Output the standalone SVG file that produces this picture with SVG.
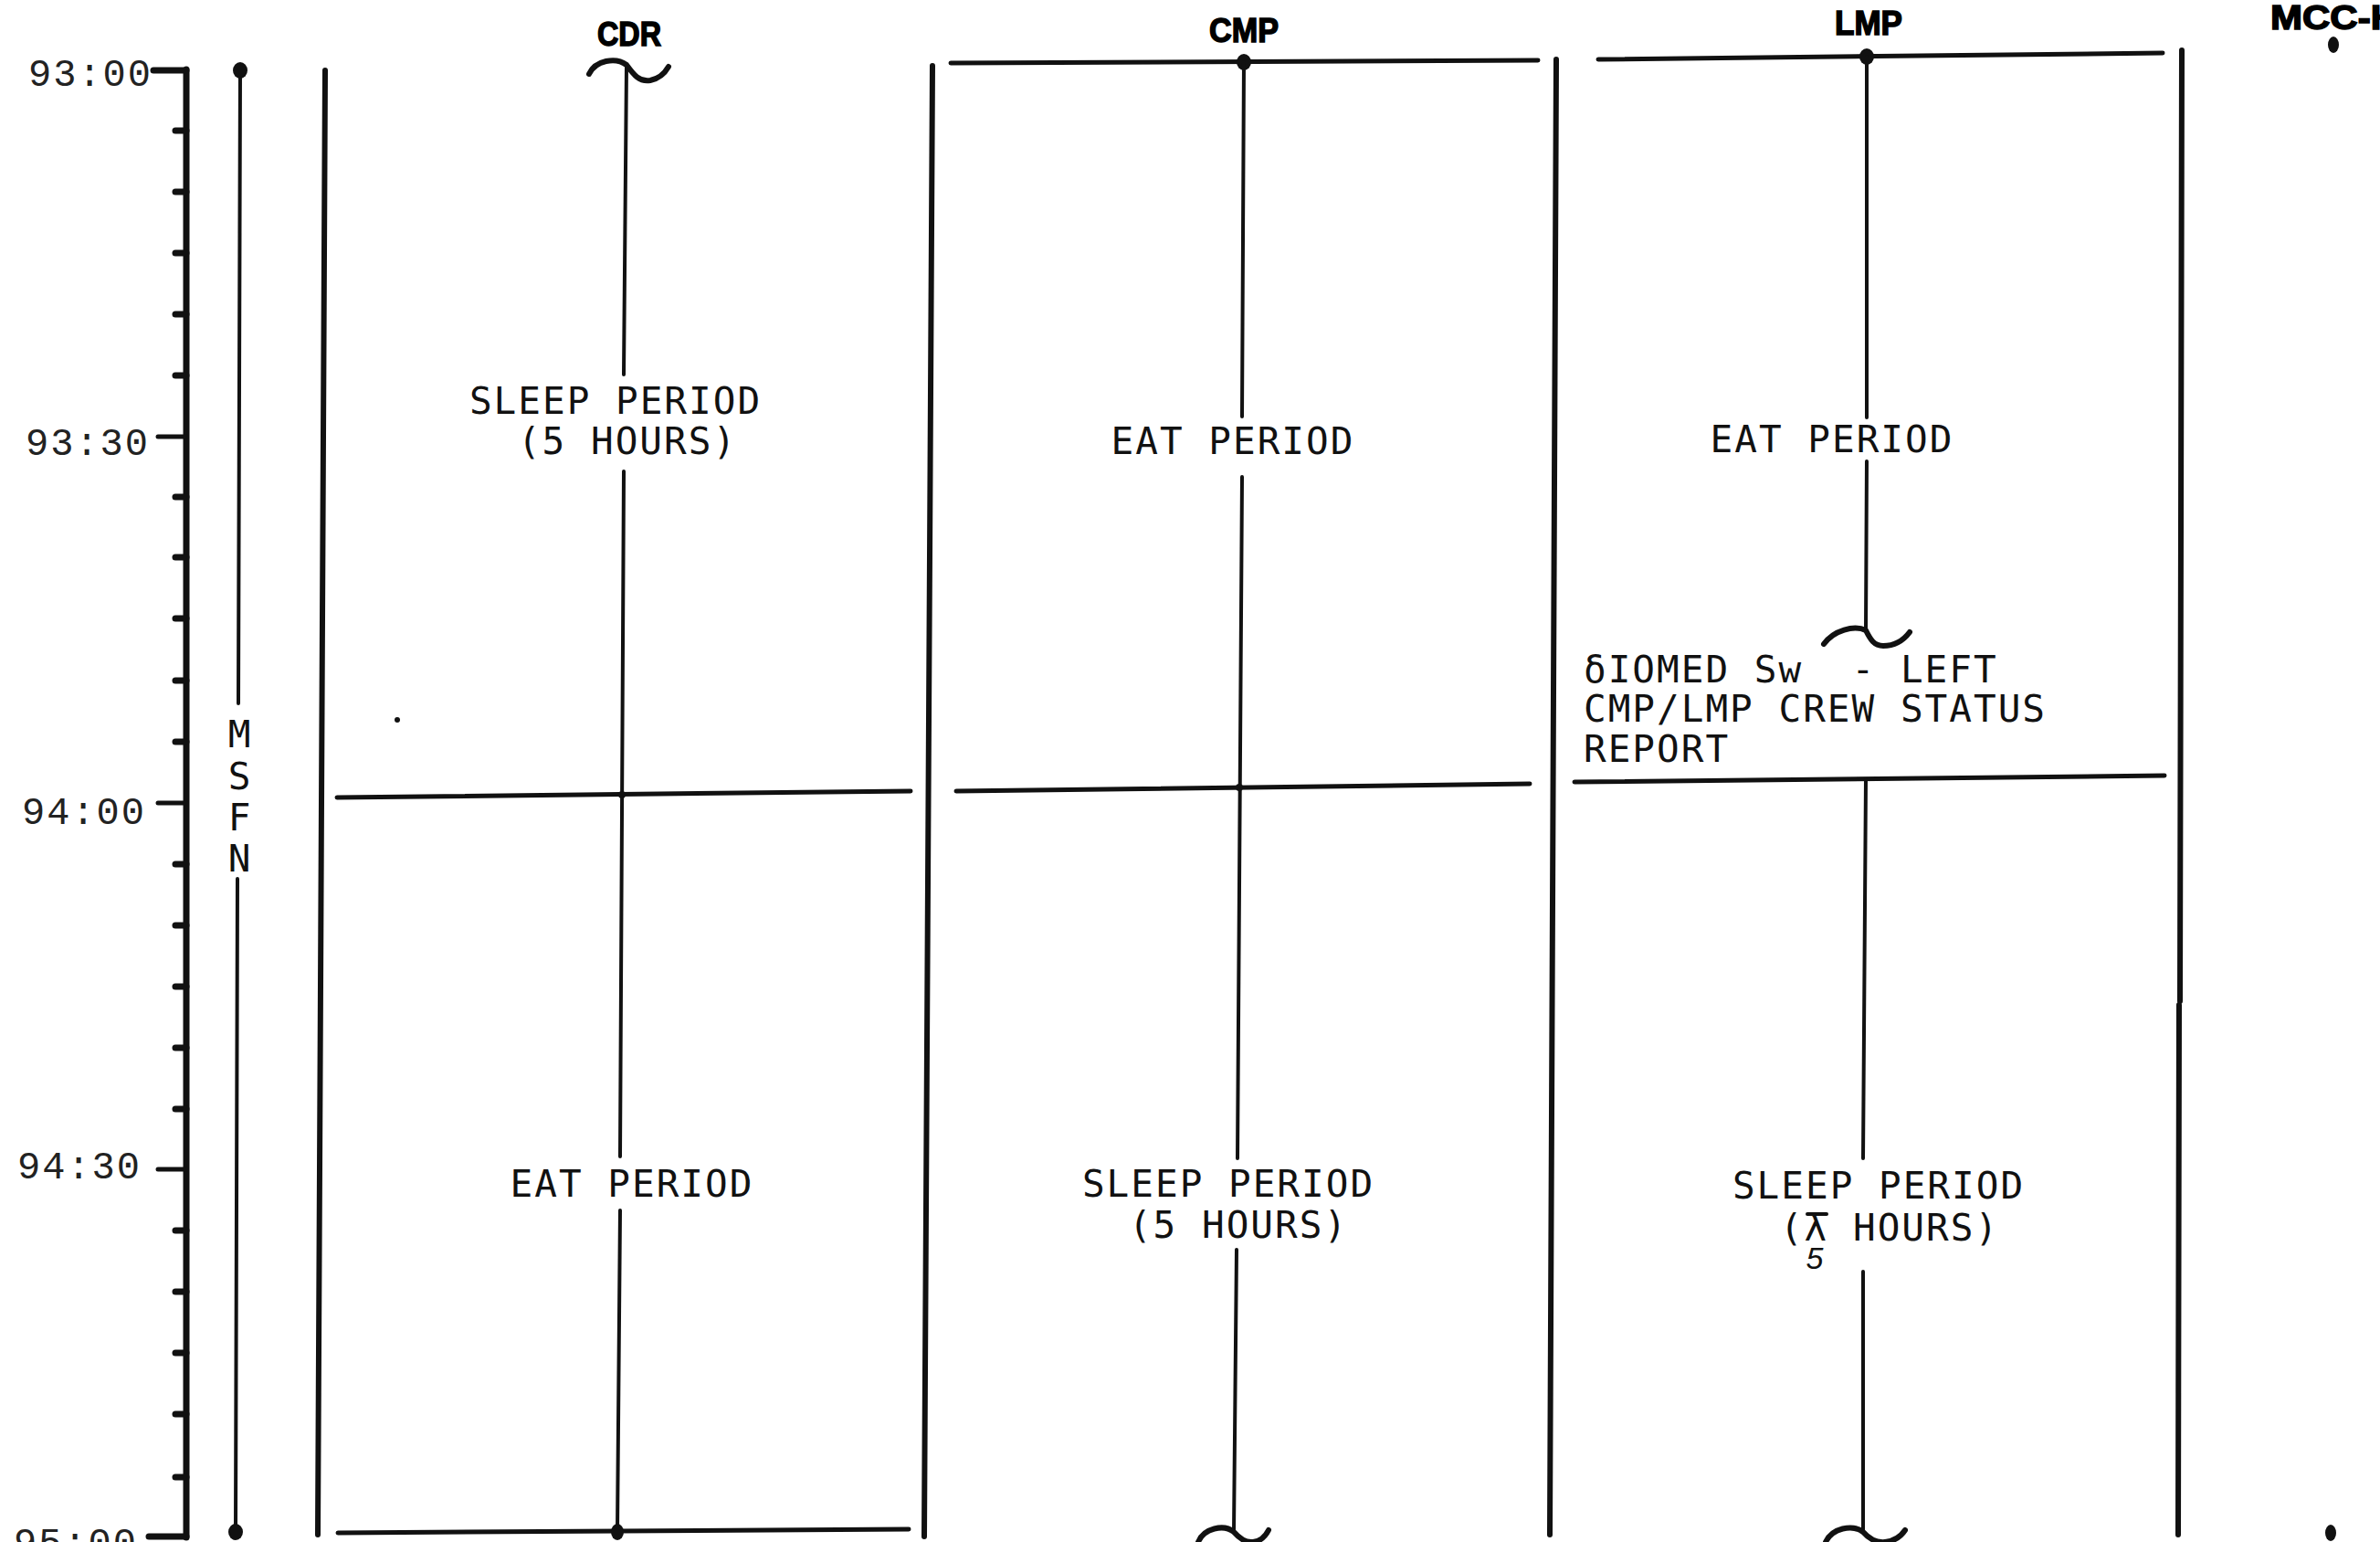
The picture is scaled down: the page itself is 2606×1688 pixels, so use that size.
<svg xmlns="http://www.w3.org/2000/svg" width="2606" height="1688" viewBox="0 0 2606 1688">
<defs>
<style>
.ln{stroke:#111;fill:none;stroke-linecap:round;stroke-linejoin:round}
.bd{stroke-width:6}
.cl{stroke-width:4}
.hl{stroke-width:5}
.tk{stroke-width:7}
.t{font-family:"DejaVu Sans Mono","Liberation Mono",monospace;font-size:41px;letter-spacing:2px;fill:#111}
.tm{font-family:"Liberation Mono","DejaVu Sans Mono",monospace;font-size:42px;fill:#222;text-anchor:end}
.hd{font-family:"Liberation Sans",Arial,sans-serif;font-weight:bold;font-size:36px;fill:#000;stroke:#000;stroke-width:1.5px}
.dot{fill:#111}
</style>
</defs>
<rect width="2606" height="1688" fill="#fff"/>

<g id="time-axis">
<line class="ln tk" x1="204" y1="76" x2="204" y2="1683"/>
<line class="ln tk" x1="168" y1="77" x2="204" y2="77"/>
<line class="ln tk" x1="163" y1="1682" x2="204" y2="1682"/>
<line class="ln hl" x1="173" y1="478" x2="204" y2="478"/>
<line class="ln hl" x1="173" y1="879" x2="204" y2="879"/>
<line class="ln hl" x1="173" y1="1280" x2="204" y2="1280"/>
<g class="ln tk">
<line x1="192" y1="143" x2="204" y2="143"/><line x1="192" y1="210" x2="204" y2="210"/>
<line x1="192" y1="277" x2="204" y2="277"/><line x1="192" y1="344" x2="204" y2="344"/>
<line x1="192" y1="411" x2="204" y2="411"/><line x1="192" y1="544" x2="204" y2="544"/>
<line x1="192" y1="610" x2="204" y2="610"/><line x1="192" y1="677" x2="204" y2="677"/>
<line x1="192" y1="745" x2="204" y2="745"/><line x1="192" y1="812" x2="204" y2="812"/>
<line x1="192" y1="946" x2="204" y2="946"/><line x1="192" y1="1013" x2="204" y2="1013"/>
<line x1="192" y1="1080" x2="204" y2="1080"/><line x1="192" y1="1147" x2="204" y2="1147"/>
<line x1="192" y1="1214" x2="204" y2="1214"/><line x1="192" y1="1347" x2="204" y2="1347"/>
<line x1="192" y1="1414" x2="204" y2="1414"/><line x1="192" y1="1481" x2="204" y2="1481"/>
<line x1="192" y1="1548" x2="204" y2="1548"/><line x1="192" y1="1617" x2="204" y2="1617"/>
</g>
<text class="tm" x="167" y="94" letter-spacing="2">93:00</text>
<text class="tm" x="164" y="498" letter-spacing="2">93:30</text>
<text class="tm" x="160" y="902" letter-spacing="2">94:00</text>
<text class="tm" x="155" y="1290" letter-spacing="2">94:30</text>
<text class="tm" x="151" y="1702" letter-spacing="2">95:00</text>
</g>

<g id="msfn">
<line class="ln cl" x1="263" y1="77" x2="261" y2="770"/>
<line class="ln cl" x1="260" y1="962" x2="258" y2="1677"/>
<ellipse class="dot" cx="263" cy="77" rx="8" ry="9"/>
<ellipse class="dot" cx="258" cy="1677" rx="8" ry="9"/>
<text class="t" x="263" y="818" text-anchor="middle" letter-spacing="0">M</text>
<text class="t" x="263" y="864" text-anchor="middle" letter-spacing="0">S</text>
<text class="t" x="263" y="909" text-anchor="middle" letter-spacing="0">F</text>
<text class="t" x="263" y="954" text-anchor="middle" letter-spacing="0">N</text>
</g>

<g id="column-borders">
<line class="ln bd" x1="356" y1="77" x2="348" y2="1680"/>
<line class="ln bd" x1="1021" y1="72" x2="1012" y2="1682"/>
<line class="ln bd" x1="1704" y1="65" x2="1697" y2="1680"/>
<line class="ln bd" x1="2389" y1="55" x2="2387" y2="1096"/>
<line class="ln bd" x1="2386" y1="1100" x2="2385" y2="1680"/>
</g>

<g id="headers">
<text class="hd" x="689" y="50" text-anchor="middle" textLength="70" lengthAdjust="spacingAndGlyphs">CDR</text>
<text class="hd" x="1362" y="46" text-anchor="middle" textLength="76" lengthAdjust="spacingAndGlyphs">CMP</text>
<text class="hd" x="2046" y="38" text-anchor="middle" textLength="74" lengthAdjust="spacingAndGlyphs">LMP</text>
<text class="hd" x="2486" y="32" text-anchor="start" textLength="140" lengthAdjust="spacingAndGlyphs">MCC-H</text>
<ellipse class="dot" cx="2555" cy="49" rx="6" ry="9"/>
<ellipse class="dot" cx="2552" cy="1678" rx="6" ry="9"/>
</g>

<g id="cdr">
<path class="ln" stroke-width="6" d="M645,81 C652,66 674,62 686,71 C694,82 700,90 712,88 C722,86 728,80 732,73"/>
<line class="ln cl" x1="686" y1="71" x2="683" y2="410"/>
<line class="ln cl" x1="683" y1="516" x2="679" y2="1266"/>
<line class="ln cl" x1="679" y1="1325" x2="676" y2="1677"/>
<line class="ln hl" x1="369" y1="873" x2="997" y2="866"/>
<circle class="dot" cx="681" cy="870" r="4"/>
<line class="ln hl" x1="370" y1="1678" x2="995" y2="1674"/>
<ellipse class="dot" cx="676" cy="1677" rx="7" ry="9"/>
<circle class="dot" cx="435" cy="788" r="3"/>
<text class="t" x="674" y="453" text-anchor="middle">SLEEP PERIOD</text>
<text class="t" x="687" y="497" text-anchor="middle">(5 HOURS)</text>
<text class="t" x="692" y="1310" text-anchor="middle">EAT PERIOD</text>
</g>

<g id="cmp">
<line class="ln hl" x1="1041" y1="69" x2="1684" y2="66"/>
<ellipse class="dot" cx="1362" cy="68" rx="8" ry="9"/>
<line class="ln cl" x1="1362" y1="68" x2="1360" y2="456"/>
<line class="ln cl" x1="1360" y1="522" x2="1355" y2="1268"/>
<line class="ln cl" x1="1354" y1="1368" x2="1351" y2="1677"/>
<line class="ln hl" x1="1047" y1="866" x2="1675" y2="858"/>
<circle class="dot" cx="1357" cy="862" r="4"/>
<path class="ln" stroke-width="6" d="M1312,1688 C1318,1673 1340,1668 1351,1677 C1358,1685 1364,1689 1372,1688 C1381,1687 1386,1681 1389,1675"/>
<text class="t" x="1350" y="497" text-anchor="middle">EAT PERIOD</text>
<text class="t" x="1345" y="1310" text-anchor="middle">SLEEP PERIOD</text>
<text class="t" x="1356" y="1355" text-anchor="middle">(5 HOURS)</text>
</g>

<g id="lmp">
<line class="ln hl" x1="1750" y1="65" x2="2368" y2="58"/>
<ellipse class="dot" cx="2044" cy="62" rx="8" ry="9"/>
<line class="ln cl" x1="2044" y1="62" x2="2044" y2="457"/>
<line class="ln cl" x1="2044" y1="505" x2="2043" y2="690"/>
<path class="ln" stroke-width="6" d="M1997,705 C2008,690 2030,684 2043,690 C2048,700 2052,707 2062,707 C2075,707 2085,700 2091,692"/>
<text class="t" x="1734" y="747" letter-spacing="2.6" xml:space="preserve">δIOMED Sw  - LEFT</text>
<text class="t" x="1734" y="790" letter-spacing="2.6">CMP/LMP CREW STATUS</text>
<text class="t" x="1734" y="834" letter-spacing="2.6">REPORT</text>
<line class="ln hl" x1="1724" y1="856" x2="2370" y2="849"/>
<line class="ln cl" x1="2043" y1="853" x2="2040" y2="1268"/>
<line class="ln cl" x1="2040" y1="1392" x2="2040" y2="1677"/>
<path class="ln" stroke-width="6" d="M1999,1688 C2006,1673 2028,1668 2040,1677 C2047,1685 2054,1689 2064,1688 C2075,1687 2082,1681 2086,1675"/>
<text class="t" x="2006" y="495" text-anchor="middle">EAT PERIOD</text>
<text class="t" x="2057" y="1312" text-anchor="middle">SLEEP PERIOD</text>
<text class="t" x="2069" y="1358" text-anchor="middle">(λ HOURS)</text>
<line class="ln" stroke-width="4" x1="1979" y1="1329" x2="2000" y2="1329"/>
<text x="1987" y="1389" text-anchor="middle" font-family="Liberation Sans, sans-serif" font-style="italic" font-size="34" fill="#111">5</text>
</g>
</svg>
